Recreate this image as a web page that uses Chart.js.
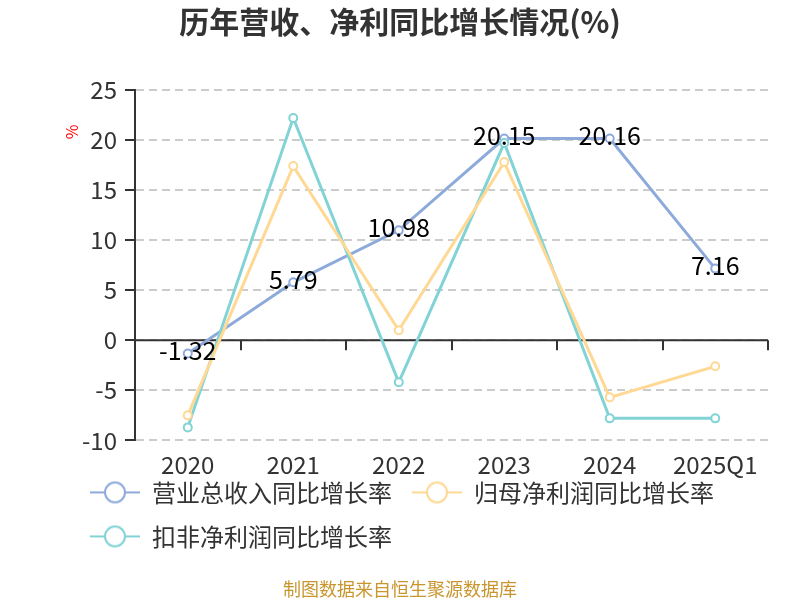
<!DOCTYPE html>
<html>
<head>
<meta charset="utf-8">
<script src="https://cdn.jsdelivr.net/npm/chart.js@4/dist/chart.umd.min.js"></script>
<style>
  html, body { margin: 0; padding: 0; background: #fff; }
  #wrap { width: 800px; height: 600px; }
</style>
</head>
<body>
<div id="wrap"><canvas id="growthChart" width="800" height="600"></canvas></div>
<script>
// data
const categories = ['2020', '2021', '2022', '2023', '2024', '2025Q1'];
const revenueGrowth = [-1.32, 5.79, 10.98, 20.15, 20.16, 7.16];
const netProfitGrowth = [-7.5, 17.4, 1.0, 17.8, -5.7, -2.6];
const deductedProfitGrowth = [-8.7, 22.2, -4.2, 19.7, -7.8, -7.8];
const seriesNames = ['营业总收入同比增长率', '归母净利润同比增长率', '扣非净利润同比增长率'];
const seriesColors = ['#8eaadb', '#ffd894', '#82d3d6'];
const drawOrder = [2, 0, 1]; // blue at the bottom, orange on top

const FONT = '"Noto Sans CJK SC", "Noto Sans", sans-serif';

// legend icon: short line with a hollow circle
function makeIcon(color) {
    const c = document.createElement('canvas');
    c.width = 50; c.height = 26;
    const g = c.getContext('2d');
    g.strokeStyle = color;
    g.lineWidth = 2;
    g.beginPath(); g.moveTo(0, 13); g.lineTo(50, 13); g.stroke();
    g.fillStyle = '#fff';
    g.beginPath(); g.arc(25, 13, 10, 0, Math.PI * 2); g.fill(); g.stroke();
    return c;
}
const icons = seriesColors.map(makeIcon);

// zero axis line with ticks, value labels, "%" unit
const extras = {
    id: 'extras',
    afterLayout(chart) {
        // legend starts left-aligned under the axis labels and sits closer to the x labels
        chart.legend.left = 70;
        chart.legend.top -= 20;
        chart.legend.bottom -= 20;
    },
    beforeDatasetsDraw(chart) {
        const {ctx, chartArea, scales: {x, y}} = chart;
        const y0 = y.getPixelForValue(0);
        const step = x.getPixelForValue(1) - x.getPixelForValue(0);
        ctx.save();
        ctx.strokeStyle = '#333';
        ctx.lineWidth = 2;
        ctx.beginPath();
        ctx.moveTo(chartArea.left, y0);
        ctx.lineTo(chartArea.right, y0);
        for (let i = 0; i < categories.length; i++) {
            const bx = Math.round(x.getPixelForValue(i) + step / 2);
            ctx.moveTo(bx, y0);
            ctx.lineTo(bx, y0 + 10);
        }
        ctx.stroke();
        ctx.restore();
    },
    afterDatasetsDraw(chart) {
        const {ctx} = chart;
        const meta = chart.getDatasetMeta(0);
        ctx.save();
        ctx.font = '25px ' + FONT;
        ctx.fillStyle = '#000';
        ctx.textAlign = 'center';
        ctx.textBaseline = 'middle';
        meta.data.forEach((pt, i) => {
            ctx.fillText(revenueGrowth[i].toFixed(2), pt.x, pt.y - 3);
        });
        // unit
        ctx.translate(72, 132);
        ctx.rotate(-Math.PI / 2);
        ctx.font = '16px ' + FONT;
        ctx.fillStyle = '#ff0000';
        ctx.fillText('%', 0, 0);
        ctx.restore();
    }
};

const data = [revenueGrowth, netProfitGrowth, deductedProfitGrowth];

new Chart(document.getElementById('growthChart'), {
    type: 'line',
    data: {
        labels: categories,
        datasets: data.map((d, i) => ({
            label: seriesNames[i],
            data: d,
            borderColor: seriesColors[i],
            backgroundColor: seriesColors[i],
            borderWidth: 3,
            tension: 0,
            pointRadius: 4,
            pointBorderWidth: 2,
            pointBackgroundColor: '#fff',
            pointBorderColor: seriesColors[i],
            order: drawOrder[i]
        }))
    },
    options: {
        responsive: false,
        animation: false,
        layout: { padding: { left: 32, right: 32, top: 0, bottom: 0 } },
        plugins: {
            title: {
                display: true,
                text: '历年营收、净利同比增长情况(%)',
                color: '#333',
                font: { family: FONT, size: 30, weight: 'bold' },
                padding: { top: 4, bottom: 50 }
            },
            subtitle: {
                display: true,
                position: 'bottom',
                text: '制图数据来自恒生聚源数据库',
                color: '#c9952e',
                font: { family: FONT, size: 18 },
                padding: { top: 0, bottom: 0 }
            },
            legend: {
                position: 'bottom',
                align: 'start',
                labels: {
                    usePointStyle: true,
                    pointStyleWidth: 50,
                    padding: 20,
                    color: '#333',
                    font: { family: FONT, size: 24 },
                    sort: (a, b) => a.datasetIndex - b.datasetIndex,
                    generateLabels: (chart) =>
                        Chart.defaults.plugins.legend.labels.generateLabels(chart)
                            .map((item) => Object.assign(item, { pointStyle: icons[item.datasetIndex] }))
                }
            },
            tooltip: { enabled: false }
        },
        scales: {
            x: {
                offset: true,
                grid: { display: false, drawTicks: false },
                border: { display: false },
                ticks: { color: '#333', font: { family: FONT, size: 24 }, padding: 10 },
                afterFit: (scale) => { scale.height = 40; }
            },
            y: {
                min: -10,
                max: 25,
                ticks: { stepSize: 5, color: '#333', font: { family: FONT, size: 24 }, padding: 8 },
                grid: { color: '#ccc', lineWidth: 2, tickLength: 10, tickColor: '#333', tickWidth: 2 },
                border: {
                    display: true, color: '#333', width: 2,
                    dash: (c) => c.type === 'tick' ? [8, 5] : []
                },
                afterFit: (scale) => { scale.width = 103; }
            }
        }
    },
    plugins: [extras]
});
</script>
</body>
</html>
